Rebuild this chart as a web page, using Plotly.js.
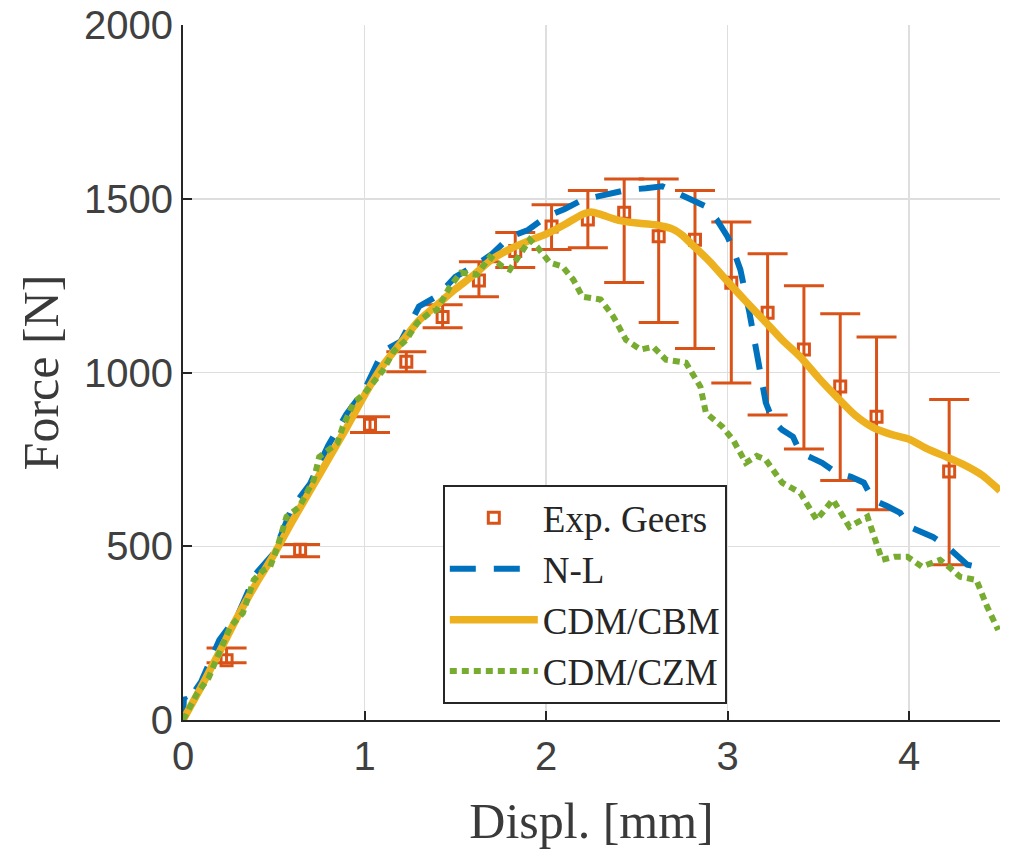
<!DOCTYPE html>
<html>
<head>
<meta charset="utf-8">
<script src="https://cdn.plot.ly/plotly-3.0.1.min.js"></script>
<style>html,body{margin:0;padding:0;background:#fff;}#chart{width:1009px;height:858px;}</style>
</head>
<body>
<div id="chart"></div>
<script>
// Experimental data (Exp. Geers)
const expX = [0.24, 0.645, 1.03, 1.23, 1.43, 1.63, 1.83, 2.03, 2.23, 2.43, 2.62, 2.82, 3.02, 3.22, 3.42, 3.62, 3.82, 4.22];
const expY = [172, 490, 850, 1031, 1160, 1265, 1350, 1420, 1440, 1460, 1392, 1382, 1258, 1172, 1066, 960, 873, 715];
const expErrPlus = [35, 15, 23, 29, 35, 54, 53, 63, 84, 97, 165, 142, 175, 170, 184, 209, 229, 207];
const expErrMinus = [7, 20, 23, 29, 31, 47, 48, 66, 81, 201, 248, 313, 288, 294, 286, 271, 268, 268];

// N-L model
const nlX = [0, 0.005, 0.02, 0.1, 0.2, 0.3, 0.4, 0.5, 0.6, 0.7, 0.8, 0.9, 1.0, 1.1, 1.2, 1.3, 1.4, 1.5, 1.6, 1.7, 1.8, 1.9, 2.0, 2.1, 2.2, 2.3, 2.45, 2.55, 2.64, 2.74, 2.82, 2.88, 2.94, 3.0, 3.03, 3.07, 3.12, 3.16, 3.21, 3.25, 3.3, 3.36, 3.4, 3.46, 3.52, 3.6, 3.68, 3.75, 3.8, 3.88, 3.95, 4.0, 4.07, 4.13, 4.21, 4.27, 4.32, 4.38, 4.43];
const nlY = [0, 65, 50, 110, 230, 300, 420, 480, 610, 680, 790, 880, 950, 1060, 1090, 1190, 1220, 1275, 1305, 1340, 1390, 1410, 1448, 1470, 1497, 1510, 1526, 1530, 1536, 1512, 1490, 1478, 1440, 1390, 1354, 1296, 1172, 1057, 913, 860, 835, 815, 769, 755, 740, 711, 700, 683, 634, 615, 596, 556, 540, 527, 498, 470, 447, 440, 423];

// CDM/CBM model
const cbmX = [0, 0.1, 0.2, 0.3, 0.4, 0.5, 0.6, 0.7, 0.8, 0.9, 1.0, 1.1, 1.2, 1.3, 1.4, 1.5, 1.6, 1.7, 1.8, 1.9, 2.0, 2.1, 2.2, 2.25, 2.3, 2.4, 2.5, 2.6, 2.7, 2.75, 2.8, 2.9, 3.0, 3.1, 3.2, 3.3, 3.4, 3.5, 3.6, 3.7, 3.8, 3.9, 4.0, 4.1, 4.2, 4.3, 4.4, 4.5];
const cbmY = [0, 95, 195, 297, 390, 475, 570, 660, 750, 840, 935, 1020, 1085, 1150, 1195, 1240, 1280, 1325, 1355, 1378, 1398, 1425, 1455, 1462, 1455, 1438, 1430, 1425, 1412, 1395, 1370, 1320, 1262, 1205, 1150, 1094, 1045, 985, 930, 878, 842, 822, 808, 780, 758, 735, 705, 660];

// CDM/CZM model
const czmX = [0, 0.03, 0.08, 0.14, 0.19, 0.26, 0.33, 0.39, 0.44, 0.48, 0.52, 0.57, 0.64, 0.72, 0.75, 0.81, 0.85, 0.88, 0.94, 1.0, 1.05, 1.1, 1.16, 1.23, 1.29, 1.36, 1.4, 1.47, 1.53, 1.62, 1.69, 1.76, 1.8, 1.86, 1.91, 1.95, 2.02, 2.09, 2.15, 2.2, 2.3, 2.37, 2.44, 2.52, 2.59, 2.66, 2.77, 2.85, 2.88, 2.97, 3.03, 3.1, 3.16, 3.21, 3.3, 3.4, 3.49, 3.58, 3.67, 3.77, 3.85, 3.92, 3.99, 4.07, 4.17, 4.22, 4.28, 4.37, 4.43, 4.49];
const czmY = [0, 30, 78, 120, 181, 268, 308, 403, 430, 441, 498, 585, 613, 691, 757, 778, 797, 844, 913, 940, 975, 1005, 1060, 1094, 1143, 1172, 1181, 1247, 1287, 1282, 1333, 1305, 1296, 1345, 1382, 1362, 1316, 1305, 1267, 1218, 1210, 1161, 1094, 1066, 1074, 1037, 1028, 959, 884, 844, 806, 740, 760, 749, 683, 654, 576, 634, 556, 585, 461, 470, 470, 441, 461, 440, 412, 403, 325, 259];

const xTicks = [0, 1, 2, 3, 4];
const yTicks = [0, 500, 1000, 1500, 2000];

const serif = 'Liberation Serif, Times New Roman, serif';
const sans = 'Liberation Sans, Arial, sans-serif';

const traces = [
  {
    x: expX, y: expY, name: 'Exp. Geers', type: 'scatter', mode: 'markers',
    marker: {symbol: 'square-open', size: 11, color: '#D95319', line: {width: 3, color: '#D95319'}},
    error_y: {type: 'data', symmetric: false, array: expErrPlus, arrayminus: expErrMinus,
              color: '#D95319', thickness: 3, width: 20}
  },
  {
    x: nlX, y: nlY, name: 'N-L', type: 'scatter', mode: 'lines',
    line: {color: '#0072BD', width: 6, dash: '26px,18px'}
  },
  {
    x: cbmX, y: cbmY, name: 'CDM/CBM', type: 'scatter', mode: 'lines',
    line: {color: '#EDB120', width: 7.5, shape: 'spline', smoothing: 0.6}
  },
  {
    x: czmX, y: czmY, name: 'CDM/CZM', type: 'scatter', mode: 'lines',
    line: {color: '#77AC30', width: 6, dash: '7px,5px'}
  }
];

const layout = {
  width: 1009, height: 858,
  margin: {l: 183, r: 9, t: 25, b: 138},
  paper_bgcolor: '#ffffff', plot_bgcolor: '#ffffff',
  showlegend: true,
  legend: {
    x: 0.318, y: 0.338, xanchor: 'left', yanchor: 'top',
    bgcolor: '#ffffff', bordercolor: '#262626', borderwidth: 2,
    font: {family: serif, size: 37, color: '#262626'},
    itemwidth: 88, tracegroupgap: 0
  },
  xaxis: {
    range: [0, 4.5], tickvals: xTicks, ticktext: xTicks.map(String),
    showgrid: true, gridcolor: '#dedede', gridwidth: 1.5, zeroline: false,
    showline: true, linecolor: '#262626', linewidth: 2,
    ticks: 'inside', ticklen: 9, tickwidth: 2, tickcolor: '#262626',
    tickfont: {family: sans, size: 40, color: '#404040'},
    title: {text: 'Displ. [mm]', font: {family: serif, size: 50, color: '#3a3a3a'}, standoff: 26}
  },
  yaxis: {
    range: [0, 2000], tickvals: yTicks, ticktext: yTicks.map(String),
    showgrid: true, gridcolor: '#dedede', gridwidth: 1.5, zeroline: false,
    showline: true, linecolor: '#262626', linewidth: 2,
    ticks: 'inside', ticklen: 9, tickwidth: 2, tickcolor: '#262626',
    tickfont: {family: sans, size: 40, color: '#404040'},
    title: {text: 'Force [N]', font: {family: serif, size: 50, color: '#3a3a3a'}, standoff: 10}
  }
};

Plotly.newPlot('chart', traces, layout, {displayModeBar: false, staticPlot: true});
</script>
</body>
</html>
